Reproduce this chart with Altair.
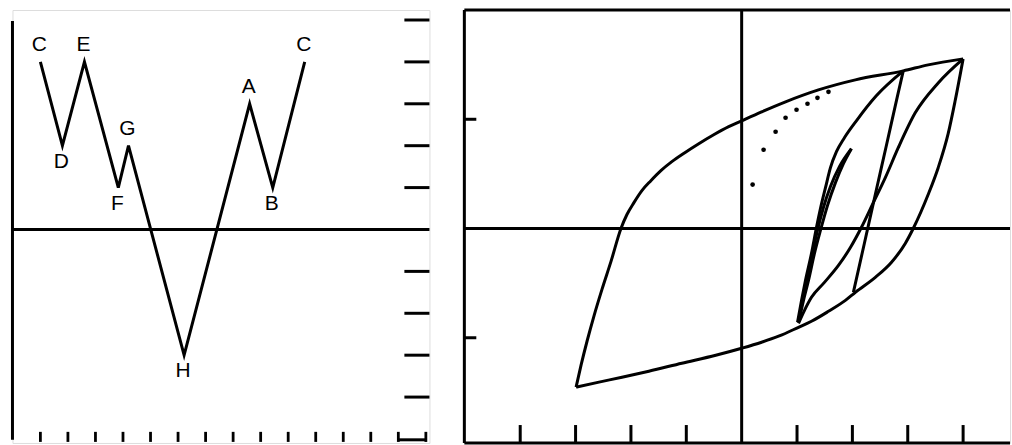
import altair as alt
import pandas as pd

# ---------------- left panel: strain history ----------------
hist_t = [0, 0.8, 1.6, 2.83, 3.2, 5.22, 7.6, 8.44, 9.6]
hist_v = [4, 2, 4, 1, 2, -3, 3, 1, 4]
hist_lbl = ["C", "D", "E", "F", "G", "H", "A", "B", "C"]

time_ticks = list(range(0, 15))
level_ticks = [5, 4, 3, 2, 1, -1, -2, -3, -4]

# ---------------- right panel: stress-strain loops ----------------
upper_x = [-2.991, -2.901, -2.793, -2.667, -2.523, -2.360, -2.180, -2.072, -1.946, -1.802,
           -1.640, -1.459, -1.261, -1.027, -0.775, -0.505, -0.234, 0.000, 0.360, 0.793,
           1.387, 2.054, 2.919, 3.369, 4.000]
upper_y = [-1.452, -1.251, -1.032, -0.799, -0.557, -0.301, 0.000, 0.128, 0.237, 0.347,
           0.438, 0.530, 0.612, 0.694, 0.776, 0.858, 0.932, 0.986, 1.068, 1.160,
           1.269, 1.361, 1.443, 1.498, 1.553]

lower_x = [-2.991, -2.577, -2.162, -1.676, -1.081, -0.468, 0.000, 0.360, 0.667, 1.027, 1.261,
           1.568, 1.874, 2.054, 2.414, 2.703, 2.955, 3.099, 3.369, 3.550, 3.730, 3.856, 4.000]
lower_y = [-1.452, -1.406, -1.361, -1.306, -1.233, -1.160, -1.096, -1.041, -0.986, -0.904, -0.849,
           -0.758, -0.658, -0.584, -0.447, -0.311, -0.137, 0.000, 0.311, 0.557, 0.868, 1.169, 1.553]

unload_ab_x = [2.018, 2.216, 2.414, 2.613, 2.811, 2.919]
unload_ab_y = [-0.584, -0.137, 0.311, 0.758, 1.205, 1.443]

reload_c_x = [1.027, 1.135, 1.261, 1.495, 1.748, 1.964, 2.162, 2.378, 2.595, 2.829, 3.135, 3.550, 4.000]
reload_c_y = [-0.868, -0.749, -0.630, -0.493, -0.338, -0.174, 0.009, 0.237, 0.466, 0.740, 1.059, 1.333, 1.553]

reload_a_x = [1.009, 1.081, 1.153, 1.261, 1.351, 1.423, 1.514, 1.604, 1.712, 1.856, 2.072, 2.432, 2.919]
reload_a_y = [-0.858, -0.658, -0.475, -0.228, 0.009, 0.183, 0.374, 0.557, 0.703, 0.831, 0.986, 1.215, 1.443]

reload_g_x = [1.027, 1.117, 1.207, 1.315, 1.423, 1.550, 1.694, 1.838, 1.982]
reload_g_y = [-0.858, -0.658, -0.475, -0.228, -0.018, 0.210, 0.420, 0.594, 0.731]

unload_g_x = [1.027, 1.099, 1.171, 1.279, 1.369, 1.477, 1.604, 1.766, 1.982]
unload_g_y = [-0.858, -0.658, -0.475, -0.228, -0.018, 0.192, 0.384, 0.566, 0.731]

virgin_x = [0.198, 0.396, 0.613, 0.793, 0.991, 1.189, 1.369, 1.568]
virgin_y = [0.402, 0.721, 0.886, 1.014, 1.087, 1.142, 1.196, 1.251]

strain_ticks = [-4, -3, -2, -1, 1, 2, 3, 4]
stress_ticks = [-1, 1]

# ---------------- geometry ----------------
L_X = [-1.014, 14.13]
L_Y = [-5.095, 5.238]
R_X = [-5.009, 4.847]
R_Y = [-1.963, 2.0]
LW, RW, H = 418, 547, 434
INK = "#000000"
FONT = "Liberation Sans"


def sx(dom):
    return alt.Scale(domain=dom, nice=False, zero=False)


def segs(rows, xd, yd, width):
    df = pd.DataFrame(rows, columns=["x", "x2", "y", "y2"])
    return alt.Chart(df).mark_rule(color=INK, strokeWidth=width, strokeCap="butt").encode(
        x=alt.X("x:Q", scale=sx(xd), axis=None),
        x2="x2:Q",
        y=alt.Y("y:Q", scale=sx(yd), axis=None),
        y2="y2:Q",
    )


# left panel frame pieces
l_rows = [[L_X[0], L_X[0], 4.976, -5.02], [L_X[0], L_X[1], 0, 0]]
l_rows += [[13.22, L_X[1], v, v] for v in level_ticks]
l_rows += [[13.0, 14.02, -5.02, -5.02]]
l_frame = segs(l_rows, L_X, L_Y, 3.0)
l_ticks = segs([[t, t, -4.83, -5.07] for t in time_ticks], L_X, L_Y, 2.8)

hist = pd.DataFrame({"t": hist_t, "v": hist_v, "lbl": hist_lbl, "i": range(len(hist_t))})
peak = []
for k, v in enumerate(hist_v):
    nb = [hist_v[j] for j in (k - 1, k + 1) if 0 <= j < len(hist_v)]
    peak.append(all(v > n for n in nb))
hist["peak"] = peak

hist_line = alt.Chart(hist).mark_line(color=INK, strokeWidth=3.0, strokeJoin="miter").encode(
    x=alt.X("t:Q", scale=sx(L_X), axis=None),
    y=alt.Y("v:Q", scale=sx(L_Y), axis=None),
    order="i:Q",
)
txt = dict(font=FONT, fontSize=21, color=INK, align="center", baseline="middle", dx=-1)
top_lbl = alt.Chart(hist[hist.peak]).mark_text(dy=-17, **txt).encode(
    x=alt.X("t:Q", scale=sx(L_X), axis=None),
    y=alt.Y("v:Q", scale=sx(L_Y), axis=None),
    text="lbl:N",
)
bot_lbl = alt.Chart(hist[~hist.peak]).mark_text(dy=16, **txt).encode(
    x=alt.X("t:Q", scale=sx(L_X), axis=None),
    y=alt.Y("v:Q", scale=sx(L_Y), axis=None),
    text="lbl:N",
)
left = alt.layer(l_frame, l_ticks, hist_line, top_lbl, bot_lbl).properties(width=LW, height=H)

# right panel frame pieces
r_rows = [
    [R_X[0], R_X[1], R_Y[1], R_Y[1]],
    [R_X[0], R_X[1], R_Y[0], R_Y[0]],
    [R_X[0], R_X[0], R_Y[0], R_Y[1]],
    [0, 0, R_Y[0], R_Y[1]],
    [R_X[0], R_X[1], 0, 0],
]
r_rows += [[R_X[0], -4.793, s, s] for s in stress_ticks]
r_rows += [[s, s, R_Y[0], -1.799] for s in strain_ticks]
r_frame = segs(r_rows, R_X, R_Y, 3.0)

branches = {
    "upper": (upper_x, upper_y),
    "lower": (lower_x, lower_y),
    "unload_ab": (unload_ab_x, unload_ab_y),
    "reload_c": (reload_c_x, reload_c_y),
    "reload_a": (reload_a_x, reload_a_y),
    "reload_g": (reload_g_x, reload_g_y),
    "unload_g": (unload_g_x, unload_g_y),
}
rows = []
for name, (xs, ys) in branches.items():
    for k, (a, b) in enumerate(zip(xs, ys)):
        rows.append({"branch": name, "k": k, "x": a, "y": b})
loops = pd.DataFrame(rows)
curves = alt.Chart(loops).mark_line(color=INK, strokeWidth=3.0, interpolate="monotone").encode(
    x=alt.X("x:Q", scale=sx(R_X), axis=None),
    y=alt.Y("y:Q", scale=sx(R_Y), axis=None),
    detail="branch:N",
    order="k:Q",
)
dots = alt.Chart(pd.DataFrame({"x": virgin_x, "y": virgin_y})).mark_circle(
    color=INK, size=22, opacity=1
).encode(
    x=alt.X("x:Q", scale=sx(R_X), axis=None),
    y=alt.Y("y:Q", scale=sx(R_Y), axis=None),
)
right = alt.layer(r_frame, curves, dots).properties(width=RW, height=H)

chart = alt.hconcat(
    left, right, spacing=35, bounds="flush",
    padding={"left": 10.5, "top": 7.5, "right": 0, "bottom": 0},
    autosize=alt.AutoSizeParams(type="pad"),
).configure_view(stroke=None).configure(background="white")

chart.save("out.html", embed_options={"renderer": "svg", "actions": False})
